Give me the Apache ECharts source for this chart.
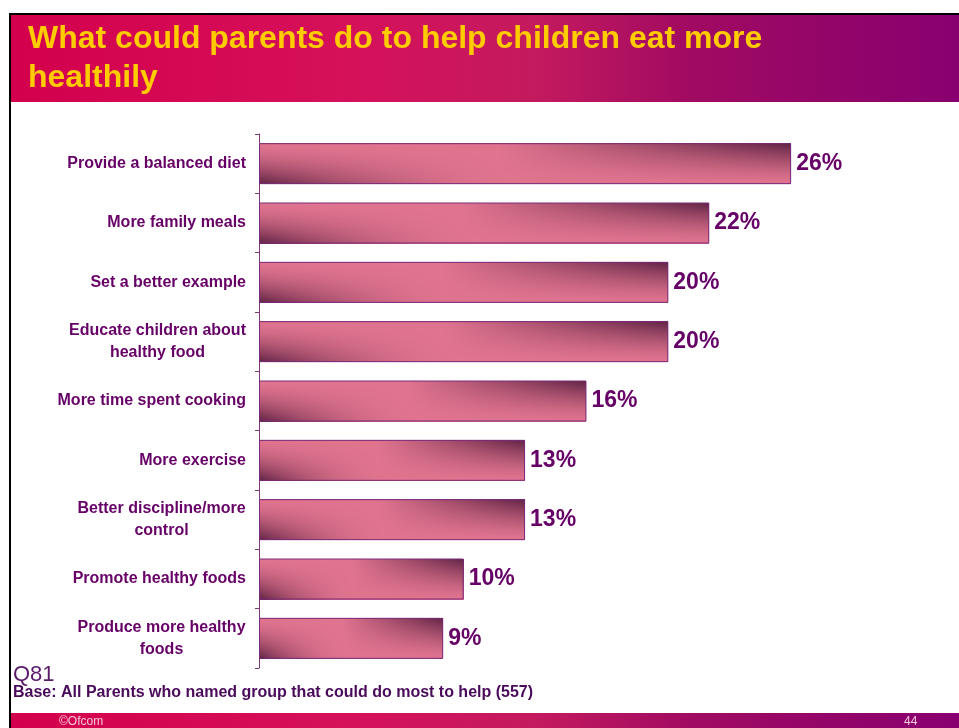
<!DOCTYPE html>
<html>
<head>
<meta charset="utf-8">
<script src="https://cdn.jsdelivr.net/npm/echarts@6/dist/echarts.min.js"></script>
<style>
html,body{margin:0;padding:0;background:#fff;}
#c{width:959px;height:728px;}
</style>
</head>
<body>
<div id="c"></div>
<script>
var categories = [
  "Provide a balanced diet",
  "More family meals",
  "Set a better example",
  "Educate children about\nhealthy food",
  "More time spent cooking",
  "More exercise",
  "Better discipline/more\ncontrol",
  "Promote healthy foods",
  "Produce more healthy\nfoods"
];
var values = [26, 22, 20, 20, 16, 13, 13, 10, 9];
var titleText = "What could parents do to help children eat more\nhealthily";
var questionText = "Q81";
var baseText = "Base: All Parents who named group that could do most to help (557)";
var footerLeft = "\u00A9Ofcom";
var footerRight = "44";

var FF = '"Liberation Sans", Arial, sans-serif';
var purple = '#660066';
var cv = document.createElement('canvas').getContext('2d');
cv.font = 'bold 16px ' + FF;

// rich styles so multi-line labels are centred within a right-aligned block
var rich = {};
categories.forEach(function (c, i) {
  var lines = c.split('\n');
  if (lines.length > 1) {
    var w = 0;
    lines.forEach(function (l) { w = Math.max(w, cv.measureText(l).width); });
    rich['c' + i] = {width: Math.ceil(w), align: 'center', color: purple, fontWeight: 'bold',
      fontSize: 16, lineHeight: 22, fontFamily: FF};
  }
});

// shading texture for the bars (2D: dark lower-left, dark upper-right)
function makeShade() {
  var W = 240, H = 48;
  var c = document.createElement('canvas'); c.width = W; c.height = H;
  var g = c.getContext('2d');
  var img = g.createImageData(W, H);
  var pink = [224, 116, 143], dark = [104, 40, 72];
  for (var y = 0; y < H; y++) {
    for (var x = 0; x < W; x++) {
      var u = x / (W - 1), v = y / (H - 1);
      var L = Math.max(0, 1 - u / 0.5); L = L * L * Math.pow(v, 1.6);
      var R = Math.max(0, (u - 0.45) / 0.55); R = R * Math.pow(1 - v, 1.4);
      var d = Math.min(1, Math.max(L, R) * 1.05);
      var k = (y * W + x) * 4;
      for (var j = 0; j < 3; j++) img.data[k + j] = Math.round(pink[j] + (dark[j] - pink[j]) * d);
      img.data[k + 3] = 255;
    }
  }
  g.putImageData(img, 0, 0);
  return c;
}
var shade = makeShade();

var headGrad = new echarts.graphic.LinearGradient(0, 0, 1, 0, [
  {offset: 0, color: '#d3004d'},
  {offset: 0.35, color: '#d6105a'},
  {offset: 0.55, color: '#c41a5e'},
  {offset: 0.72, color: '#a00a62'},
  {offset: 1, color: '#880070'}
]);

var chart = echarts.init(document.getElementById('c'));
var BARW = 41;

chart.setOption({
  animation: false,
  backgroundColor: '#ffffff',
  grid: {left: 259, top: 134, width: 614, height: 534, containLabel: false},
  xAxis: {type: 'value', min: 0, max: 30, show: false},
  yAxis: {
    type: 'category',
    data: categories,
    inverse: true,
    axisLine: {show: true, lineStyle: {color: '#7a3a7a', width: 1}},
    axisTick: {show: true, length: 4, lineStyle: {color: '#7a3a7a'}},
    axisLabel: {
      margin: 13,
      color: purple,
      fontFamily: FF,
      fontWeight: 'bold',
      fontSize: 16,
      lineHeight: 22,
      formatter: function (v, i) {
        var lines = v.split('\n');
        if (lines.length === 1) return v;
        return lines.map(function (l) { return '{c' + i + '|' + l + '}'; }).join('\n');
      },
      rich: rich
    }
  },
  series: [{
    type: 'custom',
    z: 2,
    data: values.map(function (v, i) { return [v, i]; }),
    renderItem: function (params, api) {
      var p0 = api.coord([0, api.value(1)]);
      var p1 = api.coord([api.value(0), api.value(1)]);
      return {
        type: 'image',
        style: {image: shade, x: p0[0], y: p0[1] - BARW / 2, width: p1[0] - p0[0], height: BARW}
      };
    }
  }, {
    type: 'bar',
    z: 3,
    data: values,
    barWidth: BARW,
    itemStyle: {color: 'rgba(0,0,0,0)', borderColor: '#7a2a7a', borderWidth: 1},
    label: {
      show: true, position: 'right', distance: 5,
      formatter: '{c}%',
      color: purple, fontWeight: 'bold', fontSize: 23, fontFamily: FF
    }
  }],
  graphic: [
    {type: 'rect', shape: {x: 9, y: 13, width: 960, height: 3}, style: {fill: '#000'}},
    {type: 'rect', shape: {x: 9, y: 13, width: 2, height: 720}, style: {fill: '#000'}},
    {type: 'rect', shape: {x: 11, y: 15, width: 950, height: 87}, style: {fill: headGrad}},
    {type: 'rect', shape: {x: 11, y: 713, width: 950, height: 16}, style: {fill: headGrad}},
    {type: 'text', left: 28, top: 20, style: {
      text: titleText, fill: '#ffcc00', font: 'bold 32px ' + FF, lineHeight: 39
    }},
    {type: 'text', left: 13, top: 664, style: {
      text: questionText, fill: '#5a1a6a', font: '22px ' + FF
    }},
    {type: 'text', left: 13, top: 685, style: {
      text: baseText, fill: '#4a0a5a', font: 'bold 16px ' + FF
    }},
    {type: 'text', left: 59, top: 716, style: {
      text: footerLeft, fill: '#f4c8dc', font: '12px ' + FF
    }},
    {type: 'text', left: 904, top: 716, style: {
      text: footerRight, fill: '#f4c8dc', font: '12px ' + FF
    }}
  ]
});
</script>
</body>
</html>
